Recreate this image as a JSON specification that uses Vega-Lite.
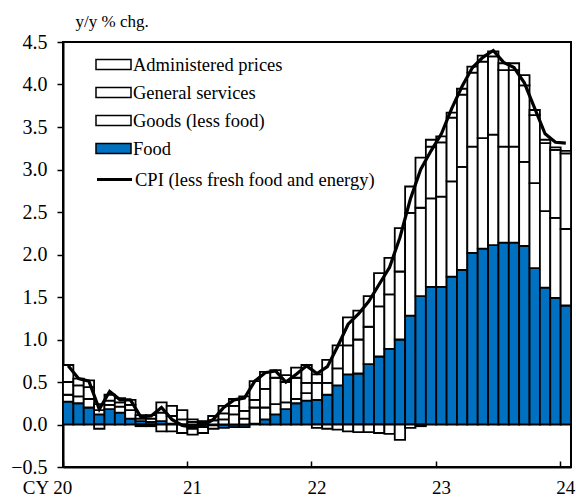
{
  "$schema": "https://vega.github.io/schema/vega-lite/v6.json",
  "width": 508,
  "height": 425,
  "autosize": "none",
  "padding": {"left": 63, "top": 42, "right": 5, "bottom": 36},
  "background": "white",
  "config": {
    "view": {"stroke": "black", "strokeWidth": 2},
    "font": "Liberation Serif",
    "axis": {"labelFont": "Liberation Serif", "titleFont": "Liberation Serif", "labelColor": "black", "titleColor": "black", "domainColor": "black", "tickColor": "black", "grid": false, "domainWidth": 2, "tickWidth": 1.5}
  },
  "datasets": {
    "stackrank": [
      {"comp": "Food", "rank": 1},
      {"comp": "Goods (less food)", "rank": 2},
      {"comp": "General services", "rank": 3},
      {"comp": "Administered prices", "rank": 4}
    ]
  },
  "data": {"values": [
    {"m": "2020-01", "Food": 0.27, "Goods (less food)": 0.08, "General services": 0.15, "Administered prices": 0.20, "CPI": 0.69},
    {"m": "2020-02", "Food": 0.25, "Goods (less food)": 0.08, "General services": 0.13, "Administered prices": 0.08, "CPI": 0.54},
    {"m": "2020-03", "Food": 0.20, "Goods (less food)": 0.10, "General services": 0.14, "Administered prices": 0.08, "CPI": 0.51},
    {"m": "2020-04", "Food": 0.12, "Goods (less food)": 0.05, "General services": 0.07, "Administered prices": -0.05, "CPI": 0.18},
    {"m": "2020-05", "Food": 0.18, "Goods (less food)": 0.05, "General services": 0.05, "Administered prices": 0.07, "CPI": 0.39},
    {"m": "2020-06", "Food": 0.14, "Goods (less food)": 0.07, "General services": 0.05, "Administered prices": 0.05, "CPI": 0.29},
    {"m": "2020-07", "Food": 0.07, "Goods (less food)": 0.10, "General services": 0.06, "Administered prices": 0.06, "CPI": 0.29},
    {"m": "2020-08", "Food": 0.04, "Goods (less food)": 0.03, "General services": 0.04, "Administered prices": -0.02, "CPI": 0.09},
    {"m": "2020-09", "Food": 0.03, "Goods (less food)": 0.04, "General services": 0.04, "Administered prices": -0.02, "CPI": 0.10},
    {"m": "2020-10", "Food": 0.04, "Goods (less food)": 0.10, "General services": 0.12, "Administered prices": -0.08, "CPI": 0.20},
    {"m": "2020-11", "Food": 0.01, "Goods (less food)": 0.09, "General services": 0.12, "Administered prices": -0.08, "CPI": 0.06},
    {"m": "2020-12", "Food": 0.00, "Goods (less food)": 0.06, "General services": 0.11, "Administered prices": -0.10, "CPI": -0.01},
    {"m": "2021-01", "Food": -0.05, "Goods (less food)": 0.03, "General services": 0.03, "Administered prices": -0.07, "CPI": -0.03},
    {"m": "2021-02", "Food": -0.03, "Goods (less food)": 0.02, "General services": 0.02, "Administered prices": -0.07, "CPI": -0.01},
    {"m": "2021-03", "Food": -0.01, "Goods (less food)": 0.05, "General services": 0.05, "Administered prices": -0.04, "CPI": 0.06},
    {"m": "2021-04", "Food": -0.04, "Goods (less food)": 0.06, "General services": 0.07, "Administered prices": 0.09, "CPI": 0.20},
    {"m": "2021-05", "Food": -0.03, "Goods (less food)": 0.12, "General services": 0.10, "Administered prices": 0.08, "CPI": 0.29},
    {"m": "2021-06", "Food": -0.03, "Goods (less food)": 0.07, "General services": 0.09, "Administered prices": 0.17, "CPI": 0.31},
    {"m": "2021-07", "Food": 0.01, "Goods (less food)": 0.19, "General services": 0.09, "Administered prices": 0.22, "CPI": 0.51},
    {"m": "2021-08", "Food": 0.06, "Goods (less food)": 0.14, "General services": 0.22, "Administered prices": 0.20, "CPI": 0.61},
    {"m": "2021-09", "Food": 0.12, "Goods (less food)": 0.12, "General services": 0.31, "Administered prices": 0.09, "CPI": 0.63},
    {"m": "2021-10", "Food": 0.18, "Goods (less food)": 0.08, "General services": 0.24, "Administered prices": 0.08, "CPI": 0.50},
    {"m": "2021-11", "Food": 0.25, "Goods (less food)": 0.05, "General services": 0.25, "Administered prices": 0.12, "CPI": 0.59},
    {"m": "2021-12", "Food": 0.28, "Goods (less food)": 0.09, "General services": 0.12, "Administered prices": 0.21, "CPI": 0.69},
    {"m": "2022-01", "Food": 0.29, "Goods (less food)": 0.20, "General services": 0.10, "Administered prices": -0.04, "CPI": 0.60},
    {"m": "2022-02", "Food": 0.35, "Goods (less food)": 0.14, "General services": 0.27, "Administered prices": -0.05, "CPI": 0.68},
    {"m": "2022-03", "Food": 0.46, "Goods (less food)": 0.20, "General services": 0.27, "Administered prices": -0.06, "CPI": 0.92},
    {"m": "2022-04", "Food": 0.59, "Goods (less food)": 0.34, "General services": 0.33, "Administered prices": -0.08, "CPI": 1.18},
    {"m": "2022-05", "Food": 0.60, "Goods (less food)": 0.40, "General services": 0.34, "Administered prices": -0.09, "CPI": 1.30},
    {"m": "2022-06", "Food": 0.71, "Goods (less food)": 0.44, "General services": 0.36, "Administered prices": -0.09, "CPI": 1.45},
    {"m": "2022-07", "Food": 0.80, "Goods (less food)": 0.59, "General services": 0.39, "Administered prices": -0.10, "CPI": 1.65},
    {"m": "2022-08", "Food": 0.89, "Goods (less food)": 0.64, "General services": 0.43, "Administered prices": -0.11, "CPI": 1.85},
    {"m": "2022-09", "Food": 1.00, "Goods (less food)": 0.80, "General services": 0.51, "Administered prices": -0.18, "CPI": 2.20},
    {"m": "2022-10", "Food": 1.28, "Goods (less food)": 1.21, "General services": 0.31, "Administered prices": -0.04, "CPI": 2.65},
    {"m": "2022-11", "Food": 1.51, "Goods (less food)": 1.04, "General services": 0.59, "Administered prices": -0.02, "CPI": 3.00},
    {"m": "2022-12", "Food": 1.62, "Goods (less food)": 1.04, "General services": 0.61, "Administered prices": 0.08, "CPI": 3.22},
    {"m": "2023-01", "Food": 1.62, "Goods (less food)": 1.06, "General services": 0.64, "Administered prices": 0.07, "CPI": 3.42},
    {"m": "2023-02", "Food": 1.74, "Goods (less food)": 1.12, "General services": 0.75, "Administered prices": 0.06, "CPI": 3.72},
    {"m": "2023-03", "Food": 1.82, "Goods (less food)": 1.21, "General services": 0.85, "Administered prices": 0.07, "CPI": 3.98},
    {"m": "2023-04", "Food": 2.02, "Goods (less food)": 1.25, "General services": 0.87, "Administered prices": 0.07, "CPI": 4.20},
    {"m": "2023-05", "Food": 2.07, "Goods (less food)": 1.30, "General services": 0.90, "Administered prices": 0.07, "CPI": 4.32},
    {"m": "2023-06", "Food": 2.11, "Goods (less food)": 1.30, "General services": 0.92, "Administered prices": 0.06, "CPI": 4.40},
    {"m": "2023-07", "Food": 2.14, "Goods (less food)": 1.13, "General services": 0.90, "Administered prices": 0.08, "CPI": 4.26},
    {"m": "2023-08", "Food": 2.14, "Goods (less food)": 1.13, "General services": 0.90, "Administered prices": 0.08, "CPI": 4.20},
    {"m": "2023-09", "Food": 2.10, "Goods (less food)": 0.99, "General services": 0.90, "Administered prices": 0.12, "CPI": 4.02},
    {"m": "2023-10", "Food": 1.84, "Goods (less food)": 1.00, "General services": 0.80, "Administered prices": 0.06, "CPI": 3.72},
    {"m": "2023-11", "Food": 1.61, "Goods (less food)": 0.90, "General services": 0.80, "Administered prices": 0.04, "CPI": 3.42},
    {"m": "2023-12", "Food": 1.49, "Goods (less food)": 0.94, "General services": 0.80, "Administered prices": 0.03, "CPI": 3.32},
    {"m": "2024-01", "Food": 1.40, "Goods (less food)": 0.90, "General services": 0.89, "Administered prices": 0.03, "CPI": 3.31}
  ]},
  "layer": [
    {
      "transform": [
        {"fold": ["Food", "Goods (less food)", "General services", "Administered prices"], "as": ["comp", "val"]},
        {"lookup": "comp", "from": {"data": {"name": "stackrank"}, "key": "comp", "fields": ["rank"]}}
      ],
      "mark": {"type": "bar", "stroke": "black", "strokeWidth": 1.8},
      "encoding": {
        "x": {
          "field": "m", "type": "ordinal",
          "scale": {"paddingInner": 0, "paddingOuter": 0},
          "axis": {
            "values": ["2020-01", "2021-01", "2022-01", "2023-01", "2024-01"],
            "bandPosition": 0,
            "labelExpr": "datum.value == '2020-01' ? 'CY 20' : slice(datum.value, 2, 4)",
            "labelAngle": 0,
            "title": null,
            "labelFontSize": 19,
            "tickSize": -6,
            "labelPadding": 17,
            "labelAlign": {"condition": {"test": "datum.value == '2020-01'", "value": "right"}, "value": "center"},
            "labelOffset": {"condition": {"test": "datum.value == '2020-01'", "value": 4}, "value": 0}
          }
        },
        "y": {
          "field": "val", "type": "quantitative", "stack": "zero",
          "scale": {"domain": [-0.5, 4.5], "nice": false, "zero": false},
          "axis": {
            "values": [-0.5, 0, 0.5, 1, 1.5, 2, 2.5, 3, 3.5, 4, 4.5],
            "format": ".1f",
            "title": "y/y % chg.",
            "titleAngle": 0,
            "titleAlign": "left",
            "titleBaseline": "alphabetic",
            "titleX": 12,
            "titleY": -16,
            "titleFontSize": 17,
            "titleFontWeight": "normal",
            "labelFontSize": 20,
            "tickSize": 6,
            "labelPadding": 10
          }
        },
        "order": {"field": "rank", "type": "quantitative", "sort": "ascending"},
        "fill": {
          "field": "comp", "type": "nominal",
          "scale": {"domain": ["Administered prices", "General services", "Goods (less food)", "Food"], "range": ["white", "white", "white", "#0070C0"]},
          "legend": {
            "orient": "none", "legendX": 32, "legendY": 4, "title": null, "padding": 0,
            "symbolType": "M-1,-0.28H1V0.28H-1Z", "symbolSize": 1225,
            "symbolStrokeColor": "black", "symbolStrokeWidth": 1.5,
            "labelFont": "Liberation Serif", "labelFontSize": 18.5, "labelColor": "black",
            "labelLimit": 400, "rowPadding": 0, "labelOffset": 1
          }
        }
      }
    },
    {
      "mark": {"type": "line", "strokeWidth": 3.2},
      "encoding": {
        "x": {"field": "m", "type": "ordinal"},
        "y": {"field": "CPI", "type": "quantitative"},
        "stroke": {
          "datum": "CPI (less fresh food and energy)", "type": "nominal",
          "scale": {"range": ["black"]},
          "legend": {
            "orient": "none", "legendX": 32, "legendY": 118, "title": null, "padding": 0,
            "symbolType": "stroke", "symbolSize": 1225, "symbolStrokeWidth": 3.2,
            "labelFont": "Liberation Serif", "labelFontSize": 18.5, "labelColor": "black",
            "labelLimit": 400, "labelOffset": 1
          }
        }
      }
    }
  ]
}
